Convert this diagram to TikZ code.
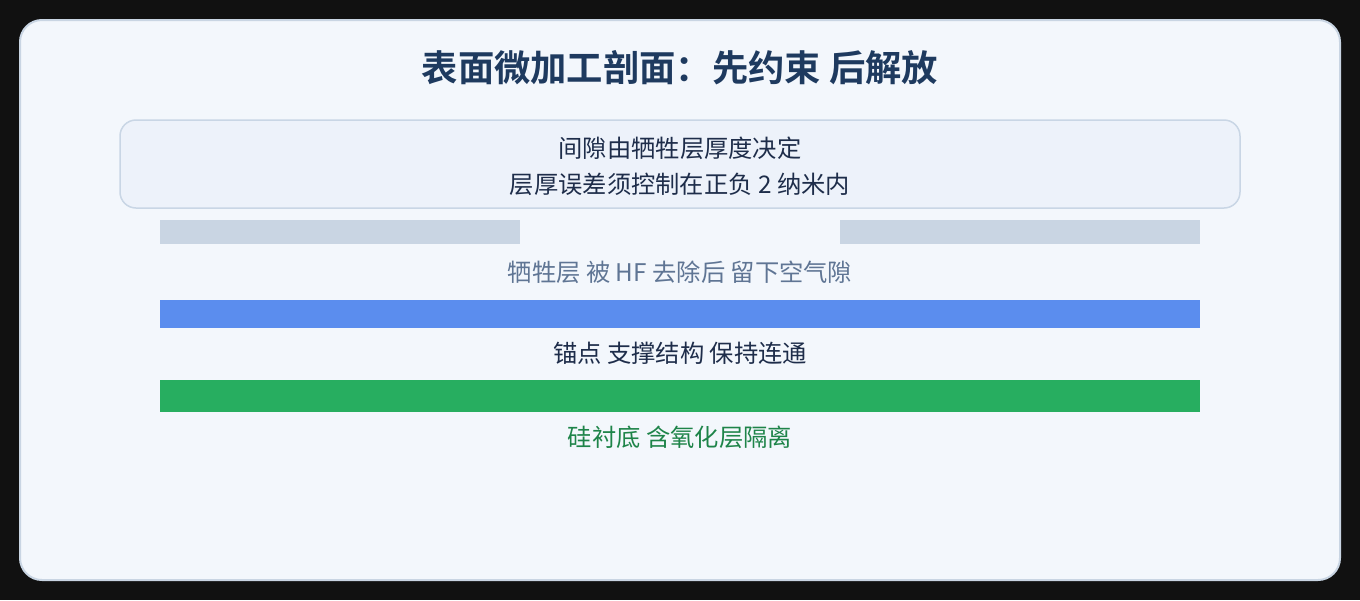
\documentclass[tikz,border=0pt]{standalone}
\usepackage{fontspec}
\newfontfamily\cjk{Noto Sans CJK SC}
\newfontfamily\cjkb{Noto Sans CJK SC Bold}
\definecolor{bgdark}{HTML}{111111}
\definecolor{panel}{HTML}{F3F7FC}
\definecolor{panelline}{HTML}{C9D5E3}
\definecolor{boxfill}{HTML}{EDF2FA}
\definecolor{boxline}{HTML}{C9D6E5}
\definecolor{titlec}{HTML}{1E3A5F}
\definecolor{textc}{HTML}{1E2D4A}
\definecolor{mutedc}{HTML}{5F7594}
\definecolor{sacc}{HTML}{C9D5E3}
\definecolor{bluec}{HTML}{5B8DEE}
\definecolor{greenc}{HTML}{27AE60}
\definecolor{greentext}{HTML}{1E8449}
\begin{document}
\begin{tikzpicture}[x=1pt,y=-1pt,
  lbl/.style={font=\cjk\fontsize{24.3}{28}\selectfont, inner sep=0pt, anchor=center},
  layer/.style={draw=none}]
\useasboundingbox (0,0) rectangle (1360,600);
\fill[bgdark] (0,0) rectangle (1360,600);
\draw[panelline, line width=2pt, fill=panel, rounded corners=22pt] (20,20) rectangle (1340,580);
\node[font=\cjkb\fontsize{36.3}{42}\selectfont, text=titlec, inner sep=0pt] (title) at (680,68) {表面微加工剖面：先约束 后解放};
\draw[boxline, line width=1.5pt, fill=boxfill, rounded corners=16pt] (120,120) rectangle (1240,208);
\node[lbl, text=textc] (note1) at (680,148) {间隙由牺牲层厚度决定};
\node[lbl, text=textc] (note2) at (680,184) {层厚误差须控制在正负 2 纳米内};
\fill[sacc] (160,220) rectangle (520,244);
\fill[sacc] (840,220) rectangle (1200,244);
\node[lbl, text=mutedc] (sac) at (680,272) {牺牲层 被 HF 去除后 留下空气隙};
\fill[bluec] (160,300) rectangle (1200,328);
\node[lbl, text=textc] (anchor) at (680,353) {锚点 支撑结构 保持连通};
\fill[greenc] (160,380) rectangle (1200,412);
\node[lbl, text=greentext] (sub) at (680,437) {硅衬底 含氧化层隔离};
\end{tikzpicture}
\end{document}
